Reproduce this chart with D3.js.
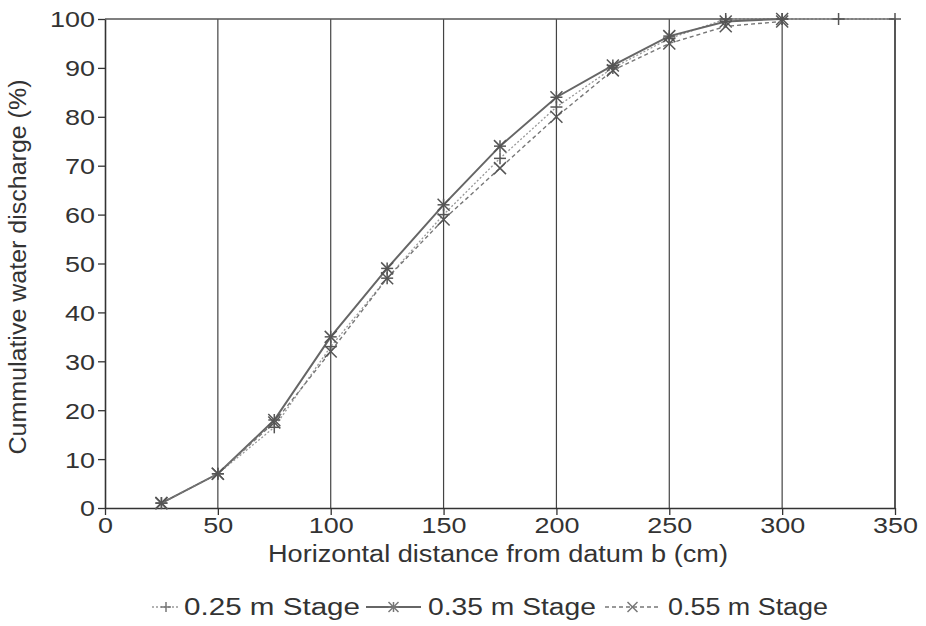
<!DOCTYPE html>
<html><head><meta charset="utf-8">
<script src="https://cdn.jsdelivr.net/npm/d3@7"></script>
<style>body{margin:0;background:#fff}text{font-family:"Liberation Sans",Arial,sans-serif;fill:#333}</style>
</head><body><svg id="c" width="926" height="626"></svg>
<script>
const xTicks=[0,50,100,150,200,250,300,350];
const yTicks=[0,10,20,30,40,50,60,70,80,90,100];
const x25=[25,50,75,100,125,150,175,200,225,250,275,300,325,350];
const y25=[1,7,16.5,33,47,60,71.5,82,90,96,100,100,100,100];
const x35=[25,50,75,100,125,150,175,200,225,250,275,300];
const y35=[1,7,18,35,49,62,74,84,90.5,96.5,99.5,100];
const x55=[25,50,75,100,125,150,175,200,225,250,275,300];
const y55=[1,7,17.5,32,47,59,69.5,80,89.5,95,98.5,99.5];
const names=["0.25 m Stage","0.35 m Stage","0.55 m Stage"];

const svg=d3.select("#c");
const L=105,R=895,T=19,B=508;
const x=d3.scaleLinear().domain([0,350]).range([L,R]);
const y=d3.scaleLinear().domain([0,100]).range([B,T]);

svg.append("g").selectAll("line").data(xTicks.filter(d=>d>0)).join("line")
 .attr("x1",d=>x(d)).attr("x2",d=>x(d)).attr("y1",T).attr("y2",B)
 .attr("stroke","#444").attr("stroke-width",d=>d===350?1.8:1.2);
svg.append("line").attr("x1",L).attr("x2",R).attr("y1",T).attr("y2",T).attr("stroke","#555").attr("stroke-width",1.4);

const xa=svg.append("g").attr("transform",`translate(0,${B})`).call(d3.axisBottom(x).tickValues(xTicks).tickSize(7).tickSizeOuter(0));
const ya=svg.append("g").attr("transform",`translate(${L},0)`).call(d3.axisLeft(y).tickValues(yTicks).tickSize(7).tickSizeOuter(0));
[xa,ya].forEach(a=>{a.select(".domain").attr("stroke","#333").attr("stroke-width",1.6);a.selectAll(".tick line").attr("stroke","#333").attr("stroke-width",1.3);
 a.selectAll("text").style("font-size","22px").attr("fill","#333")
  .attr("textLength",d=>String(d).length*15).attr("lengthAdjust","spacingAndGlyphs");});
xa.selectAll("text").attr("y",9).attr("dy","0.72em");
ya.selectAll("text").attr("x",-10).attr("dy","0.36em");

svg.append("text").attr("x",498).attr("y",562).attr("text-anchor","middle").style("font-size","23px")
 .attr("textLength",460).attr("lengthAdjust","spacingAndGlyphs").text("Horizontal distance from datum  b (cm)");
svg.append("text").attr("transform","translate(26,267) rotate(-90)").attr("text-anchor","middle").style("font-size","23px")
 .attr("textLength",375).attr("lengthAdjust","spacingAndGlyphs").text("Cummulative water discharge (%)");

const line=d3.line().x(d=>x(d[0])).y(d=>y(d[1]));
const series=[
 {xs:x25,ys:y25,stroke:"#999",w:1.3,dash:"2,2",mark:"plus"},
 {xs:x35,ys:y35,stroke:"#666",w:2,dash:null,mark:"star"},
 {xs:x55,ys:y55,stroke:"#777",w:1.4,dash:"4,3",mark:"x"}
];
function marker(g,type,cx,cy,col,s){
 if(type==="plus"||type==="star"){
  g.append("line").attr("x1",cx).attr("x2",cx).attr("y1",cy-s).attr("y2",cy+s).attr("stroke",col).attr("stroke-width",1.5);
  g.append("line").attr("x1",cx-s).attr("x2",cx+s).attr("y1",cy).attr("y2",cy).attr("stroke",col).attr("stroke-width",1.5);
 }
 if(type==="x"||type==="star"){
  g.append("line").attr("x1",cx-s).attr("x2",cx+s).attr("y1",cy-s).attr("y2",cy+s).attr("stroke",col).attr("stroke-width",1.5);
  g.append("line").attr("x1",cx-s).attr("x2",cx+s).attr("y1",cy+s).attr("y2",cy-s).attr("stroke",col).attr("stroke-width",1.5);
 }
}
series.forEach(s=>{
 const pts=s.xs.map((v,i)=>[v,s.ys[i]]);
 svg.append("path").datum(pts).attr("d",line).attr("fill","none").attr("stroke",s.stroke).attr("stroke-width",s.w).attr("stroke-dasharray",s.dash);
 const g=svg.append("g");
 pts.forEach(p=>marker(g,s.mark,x(p[0]),y(p[1]),"#555",6));
});

const lg=[{x1:152,x2:180,tx:184,tl:176},{x1:366,x2:421,tx:428,tl:168},{x1:605,x2:660,tx:668,tl:160}];
lg.forEach((l,i)=>{
 const s=series[i];
 svg.append("line").attr("x1",l.x1).attr("x2",l.x2).attr("y1",607).attr("y2",607).attr("stroke",s.stroke).attr("stroke-width",s.w).attr("stroke-dasharray",s.dash);
 const g=svg.append("g");marker(g,s.mark,(l.x1+l.x2)/2,607,"#777",5);
 svg.append("text").attr("x",l.tx).attr("y",615).style("font-size","23px")
  .attr("textLength",l.tl).attr("lengthAdjust","spacingAndGlyphs").text(names[i]);
});
</script></body></html>
